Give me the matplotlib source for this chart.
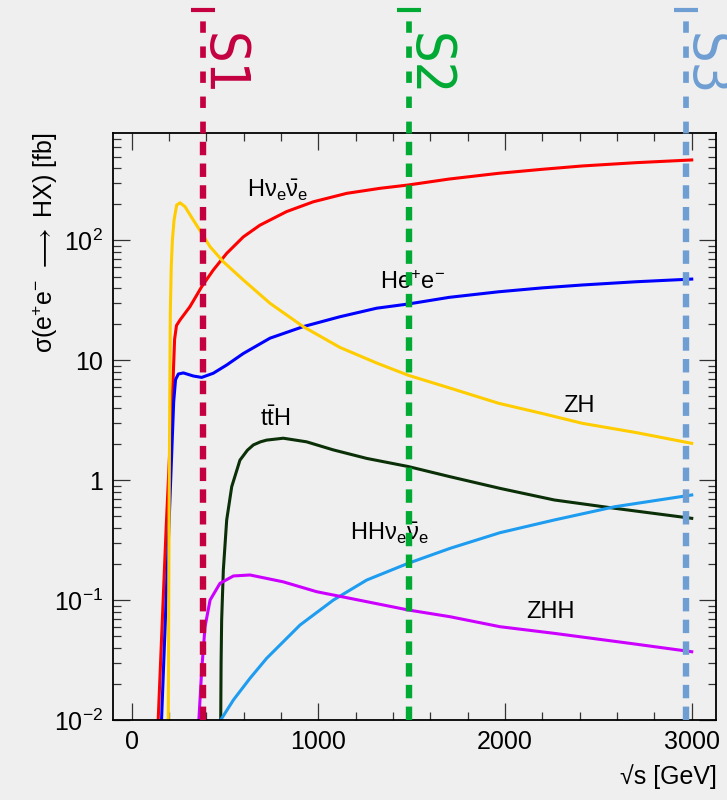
import numpy as np
import matplotlib.pyplot as plt
from matplotlib.ticker import MultipleLocator, LogLocator, NullFormatter
from matplotlib.transforms import blended_transform_factory

plt.rcParams['font.family'] = ['Liberation Sans', 'DejaVu Sans']
plt.rcParams['mathtext.fontset'] = 'custom'
plt.rcParams['mathtext.rm'] = 'Liberation Sans'
plt.rcParams['mathtext.it'] = 'Liberation Sans:italic'
plt.rcParams['mathtext.bf'] = 'Liberation Sans:bold'
plt.rcParams['mathtext.default'] = 'regular'

# cross sections, sqrt(s) in GeV, sigma in fb
E_hnn = [142, 185, 222, 230, 240, 259, 312, 375, 437, 509, 598, 687, 830, 973,
         1152, 1330, 1482, 1700, 1966, 2200, 2415, 2700, 3000]
s_hnn = [0.01, 0.41, 7.0, 15.0, 19.5, 21.7, 28.0, 41.1, 56.6, 78, 107, 134, 174, 210,
         247, 272, 290, 325, 363, 392, 418, 445, 469]

E_hee = [160, 194, 225, 235, 250, 277, 330, 375, 437, 509, 598, 741, 919, 1116,
         1312, 1482, 1700, 1966, 2200, 2415, 2700, 3000]
s_hee = [0.01, 0.245, 4.5, 6.9, 7.69, 7.85, 7.4, 7.2, 7.8, 9.14, 11.4, 15.3, 19.1, 23.1,
         27.2, 29.5, 33.5, 37.3, 40.2, 42.5, 45.2, 47.6]

E_zh = [196, 200, 204, 207, 212, 218, 227, 241, 259, 286, 330, 375, 420, 491, 598,
        741, 919, 1116, 1312, 1482, 1700, 1966, 2200, 2415, 2700, 3000]
s_zh = [0.01, 0.4, 4.5, 25, 60, 100, 148, 197, 206, 191, 148, 115, 88.6, 66.4, 46.8,
        29.9, 19.1, 12.8, 9.5, 7.5, 5.9, 4.38, 3.6, 2.98, 2.5, 2.03]

E_tth = [477, 479, 482, 491, 509, 536, 580, 620, 652, 690, 723, 812, 937, 1080, 1259, 1482,
         1705, 1973, 2264, 2588, 3000]
s_tth = [0.01, 0.03, 0.068, 0.178, 0.466, 0.884, 1.47, 1.78, 1.97, 2.09, 2.16, 2.24, 2.09, 1.79,
         1.52, 1.30, 1.07, 0.855, 0.684, 0.583, 0.481]

E_hhnn = [477, 545, 634, 723, 902, 1080, 1259, 1482, 1705, 1973, 2264, 2588, 3000]
s_hhnn = [0.01, 0.0147, 0.0223, 0.0327, 0.062, 0.1, 0.147, 0.203, 0.27, 0.365, 0.466, 0.601, 0.753]

E_zhh = [360, 375, 393, 420, 473, 545, 634, 812, 991, 1169, 1482, 1705, 1973, 2264, 2668, 3000]
s_zhh = [0.01, 0.026, 0.06, 0.1, 0.138, 0.159, 0.162, 0.142, 0.1175, 0.1035, 0.0827, 0.0727,
         0.06, 0.0528, 0.0436, 0.0371]

# stages
stage_names = ['S1', 'S2', 'S3']
stage_E = [380, 1488, 2968]

fond = '#efefef'
fig = plt.figure(figsize=(7.27, 8), dpi=100, facecolor=fond)
ax = fig.add_axes([113/727, 80/800, 603/727, 587/800])
ax.set_facecolor(fond)
ax.set_yscale('log')
ax.set_xlim(-100, 3130)
ax.set_ylim(0.01, 787)

ax.plot(E_hnn, s_hnn, color='#ff0000', lw=2.2)
ax.plot(E_hee, s_hee, color='#0000ff', lw=2.2)
ax.plot(E_zh, s_zh, color='#ffcc00', lw=2.2)
ax.plot(E_tth, s_tth, color='#0b3008', lw=2.2)
ax.plot(E_hhnn, s_hhnn, color='#1e9cf0', lw=2.2)
ax.plot(E_zhh, s_zhh, color='#cc00ff', lw=2.2)

lab = dict(fontsize=17, ha='left', va='baseline')
ax.text(618, 230, r'H$\nu_{e}\bar{\nu}_{e}$', **lab)
ax.text(1331, 39.4, r'He$^{+}$e$^{-}$', **lab)
ax.text(2310, 3.72, 'ZH', **lab)
ax.text(688, 2.85, r't$\bar{t}$H', **lab)
ax.text(1170, 0.317, r'HH$\nu_{e}\bar{\nu}_{e}$', **lab)
ax.text(2112, 0.0705, 'ZHH', **lab)

ax.set_xticks([0, 1000, 2000, 3000])
ax.xaxis.set_minor_locator(MultipleLocator(200))
ax.set_yticks([0.01, 0.1, 1, 10, 100],
              labels=[r'$10^{-2}$', r'$10^{-1}$', '1', '10', r'$10^{2}$'])
ax.yaxis.set_minor_locator(LogLocator(base=10, subs=np.arange(2, 10)))
ax.yaxis.set_minor_formatter(NullFormatter())
ax.tick_params(which='both', direction='in', top=True, right=True, color='#333333')
ax.tick_params(which='major', length=12, width=0.9, labelsize=18, pad=7)
ax.tick_params(which='minor', length=6, width=0.9)
for sp in ax.spines.values():
    sp.set_linewidth(1.3)

ax.set_ylabel(r'$\sigma$(e$^{+}$e$^{-}$ $\longrightarrow$ HX) [fb]', fontsize=18, loc='top')
ax.yaxis.set_label_coords(-0.088, 1.0)
ax.set_xlabel('√s [GeV]', fontsize=18, loc='right')
ax.xaxis.set_label_coords(1.002, -0.075)

tr = blended_transform_factory(ax.transData, fig.transFigure)
couleurs = ['#c40040', '#00aa33', '#6f9ed2']
for nom, E, c in zip(stage_names, stage_E, couleurs):
    ax.plot([E, E], [0.1, 0.83375], transform=tr, color=c, lw=4.6,
            dashes=(2.1, 1.3), clip_on=False, zorder=5)
    ax.plot([E, E], [0.83375, 0.985], transform=tr, color=c, lw=4.1,
            dashes=(2.0, 2.4), clip_on=False, zorder=5)
    ax.plot([E], [0.9875], marker='_', ms=17, mew=3, color=c,
            transform=tr, clip_on=False, zorder=5)
    ax.annotate(nom, xy=(E, 0.959), xycoords=tr, xytext=(-6, 0),
                textcoords='offset points', rotation=-90, ha='left', va='top',
                color=c, fontsize=40, family='DejaVu Sans',
                fontstretch='condensed', annotation_clip=False)

fig.savefig('out.png', dpi=100, facecolor=fond)
